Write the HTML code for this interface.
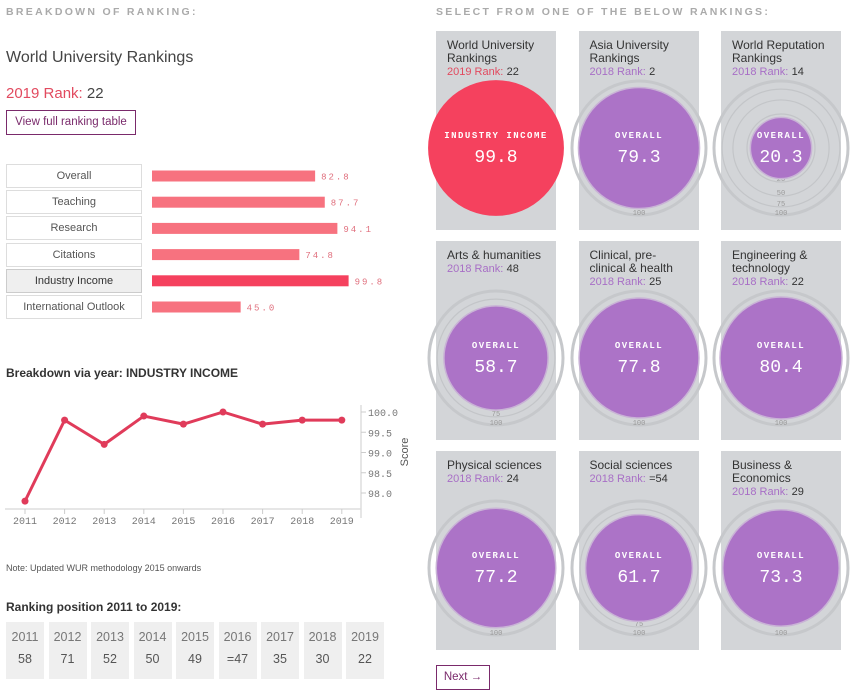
<!DOCTYPE html>
<html><head><meta charset="utf-8">
<style>
body{margin:0;width:860px;height:695px;background:#fff;font-family:"Liberation Sans",sans-serif;position:relative;overflow:hidden;color:#333}
.abs{position:absolute}
.hdr{font-size:10.5px;letter-spacing:2.3px;color:#aaa;font-weight:bold}
.lbl{position:absolute;left:6px;width:134px;height:22px;border:1px solid #ddd;font-size:11px;text-align:center;line-height:22px;color:#555;background:#fff}
.card{position:absolute;width:120px;height:199px;background:#d3d5d8;overflow:visible}
.ct{position:absolute;left:11px;top:8px;font-size:12px;line-height:13px;color:#333;width:98px}
.rk{color:#a86fc6;font-size:11px}
.yr{position:absolute;top:622px;width:38px;height:57px;background:#efefef;text-align:center;color:#777;font-size:12.5px}
</style></head><body>
<div class="abs hdr" style="left:6px;top:6px">BREAKDOWN OF RANKING:</div>
<div class="abs hdr" style="left:436px;top:6px">SELECT FROM ONE OF THE BELOW RANKINGS:</div>
<div class="abs" style="left:6px;top:49px;font-size:16px;color:#444">World University Rankings</div>
<div class="abs" style="left:6px;top:85px;font-size:15px;color:#444"><span style="color:#e24a5f">2019 Rank:</span> 22</div>
<div class="abs" style="left:6px;top:110px;width:128px;height:23px;border:1px solid #7a2a6b;font-size:11.5px;line-height:23px;text-align:center;color:#7a2a6b">View full ranking table</div>

<svg class="abs" style="left:0;top:160px" width="420" height="160" id="bars"></svg>
<div id="lbls"></div>

<div class="abs" style="left:6px;top:366px;font-size:12px;font-weight:bold;color:#333">Breakdown via year: INDUSTRY INCOME</div>
<svg class="abs" style="left:0;top:390px" width="420" height="145" id="line"></svg>
<div class="abs" style="left:6px;top:563px;font-size:9px;color:#555">Note: Updated WUR methodology 2015 onwards</div>
<div class="abs" style="left:6px;top:600px;font-size:12px;font-weight:bold;color:#333">Ranking position 2011 to 2019:</div>
<div id="yrs"></div>
<div class="abs" style="left:436px;top:665px;width:52px;height:23px;border:1px solid #7a2a6b;font-size:11.5px;line-height:23px;text-align:center;color:#7a2a6b">Next →</div>
<div id="cards"></div>

<script>
const barCats=["Overall","Teaching","Research","Citations","Industry Income","International Outlook"];
const barVals=[82.8,87.7,94.1,74.8,99.8,45.0];
const years=["2011","2012","2013","2014","2015","2016","2017","2018","2019"];
const lineVals=[97.8,99.8,99.2,99.9,99.7,100.0,99.7,99.8,99.8];
const yTicks=[98.0,98.5,99.0,99.5,100.0];
const rankPos=["58","71","52","50","49","=47","35","30","22"];
const cardTitles=["World University Rankings","Asia University Rankings","World Reputation Rankings","Arts &amp; humanities","Clinical, pre-clinical &amp; health","Engineering &amp; technology","Physical sciences","Social sciences","Business &amp; Economics"];
const cardYears=["2019","2018","2018","2018","2018","2018","2018","2018","2018"];
const cardRanks=["22","2","14","48","25","22","24","=54","29"];
const cardMetric=["INDUSTRY INCOME","OVERALL","OVERALL","OVERALL","OVERALL","OVERALL","OVERALL","OVERALL","OVERALL"];
const cardVals=[99.8,79.3,20.3,58.7,77.8,80.4,77.2,61.7,73.3];
const NS="http://www.w3.org/2000/svg";
function mk(p,t,a){const e=document.createElementNS(NS,t);for(const k in a)e.setAttribute(k,a[k]);p.appendChild(e);return e;}

// bars
const bs=document.getElementById('bars');
const bx=v=>152+v*1.97;
const lb=document.getElementById('lbls');
barCats.forEach((c,i)=>{
  const yc=16+i*26.2;
  const r=mk(bs,'rect',{x:152,y:yc-5.5,width:bx(barVals[i])-152,height:11,fill:i==4?'#f5415e':'#f7727f'});
  
  
  const t=mk(bs,'text',{x:bx(barVals[i])+6,y:yc+3.5,'font-size':9,'font-family':'Liberation Mono,monospace',fill:'#e0707e','letter-spacing':'2'});
  t.textContent=barVals[i].toFixed(1);
  
  
  const d=document.createElement('div');d.className='lbl';d.style.top=(160+yc-12)+'px';d.textContent=c;
  if(i==4){d.style.background='#efefef';d.style.color='#333';d.style.borderColor='#ccc';}
  
  
  lb.appendChild(d);
});

// line chart
const ls=document.getElementById('line');
const lx=i=>25+i*39.6;
const ly=v=>22+(100-v)*40.5;
mk(ls,'line',{x1:5,y1:119,x2:361,y2:119,stroke:'#ddd','stroke-width':1.5});
mk(ls,'line',{x1:361,y1:15,x2:361,y2:128,stroke:'#ddd','stroke-width':1.5});
years.forEach((y,i)=>{
  mk(ls,'line',{x1:lx(i),y1:119,x2:lx(i),y2:124,stroke:'#ccc'});
  const t=mk(ls,'text',{x:lx(i),y:134,'text-anchor':'middle','font-size':10,'font-family':'Liberation Mono,monospace',fill:'#777'});t.textContent=y;
  
  
});
yTicks.forEach(v=>{
  mk(ls,'line',{x1:361,y1:ly(v),x2:366,y2:ly(v),stroke:'#ccc'});
  const t=mk(ls,'text',{x:368,y:ly(v)+4,'font-size':10,'font-family':'Liberation Mono,monospace',fill:'#777'});t.textContent=v.toFixed(1);
  
  
});
const yt=mk(ls,'text',{x:408,y:62,'font-size':11,fill:'#555','text-anchor':'middle',transform:'rotate(-90 408 62)'});yt.textContent='Score';


const pl=mk(ls,'polyline',{points:lineVals.map((v,i)=>lx(i)+','+ly(v)).join(' '),fill:'none',stroke:'#e03b5a','stroke-width':3,'stroke-linejoin':'round'});


lineVals.forEach((v,i)=>{const c=mk(ls,'circle',{cx:lx(i),cy:ly(v),r:3.5,fill:'#e03b5a'});
  
  });

// year table
const yd=document.getElementById('yrs');
years.forEach((y,i)=>{
  const d=document.createElement('div');d.className='yr';d.style.left=(6+i*42.5)+'px';
  d.innerHTML='<div style="margin-top:8px">'+y+'</div><div style="margin-top:8px;color:#555">'+rankPos[i]+'</div>';
  
  
  yd.appendChild(d);
});

// cards
const cd=document.getElementById('cards');
cardTitles.forEach((t,i)=>{
  const col=i%3,row=Math.floor(i/3);
  const L=436+col*142.5,T=31+row*210;
  const c=document.createElement('div');c.className='card';c.style.left=L+'px';c.style.top=T+'px';
  
  
  const sel=i==0;
  const col2=sel?'#f5415e':'#ac73c7';
  const cy=117,R=68;
  const r=R*Math.sqrt(cardVals[i]/100);
  let s='<svg width="160" height="160" style="position:absolute;left:-20px;top:'+(cy-80)+'px;overflow:visible">';
  if(!sel){
    s+='<circle cx="80" cy="80" r="'+(R-1)+'" fill="none" stroke="#c6c8cb" stroke-width="3"/>';
    [25,50,75].forEach(p=>{const rr=R*Math.sqrt(p/100);
      if(rr>r+1) s+='<circle cx="80" cy="80" r="'+rr+'" fill="none" stroke="#c3c5c8" stroke-width="1.2"/>';});
    [25,50,75,100].forEach(p=>{const rr=R*Math.sqrt(p/100);
      s+='<text x="80" y="'+(80+rr-1)+'" text-anchor="middle" font-size="7" font-family="Liberation Mono,monospace" fill="#999">'+p+'</text>';});
  }
  s+='<circle cx="80" cy="80" r="'+r+'" fill="'+col2+'" stroke="'+(sel?'none':'#c9b3d6')+'" stroke-width="1.5"/>';
  s+='<text x="80" y="'+(80-10)+'" text-anchor="middle" font-size="9" font-weight="bold" letter-spacing="1.5" font-family="Liberation Mono,monospace" fill="#fff">'+cardMetric[i]+'</text>';
  s+='<text x="80" y="'+(80+14)+'" text-anchor="middle" font-size="18" font-family="Liberation Mono,monospace" fill="#fff">'+cardVals[i].toFixed(1)+'</text></svg>';
  c.innerHTML=s+'<div class="ct">'+t+'<br><span class="rk" style="color:'+(sel?'#e24a5f':'#a86fc6')+'">'+cardYears[i]+' Rank:</span> <span style="font-size:11px">'+cardRanks[i]+'</span></div>';
  cd.appendChild(c);
});
</script>
</body></html>
